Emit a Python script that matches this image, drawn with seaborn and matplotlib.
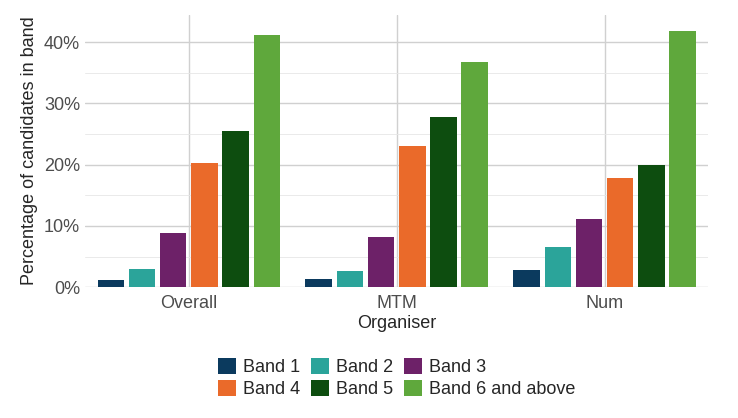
import matplotlib
matplotlib.use("Agg")
import matplotlib.pyplot as plt
import seaborn as sns
import pandas as pd
from matplotlib.ticker import FuncFormatter, MultipleLocator

organisers = ['Overall', 'MTM', 'Num']
bands = ['Band 1', 'Band 2', 'Band 3', 'Band 4', 'Band 5', 'Band 6 and above']
values = {
    'Overall': [1.2, 3.0, 8.8, 20.2, 25.5, 41.2],
    'MTM': [1.4, 2.6, 8.2, 23.1, 27.8, 36.8],
    'Num': [2.8, 6.5, 11.1, 17.8, 20.0, 41.8],
}
colours = ['#0b3a5e', '#2ba49a', '#6d2168', '#ea6a2a', '#0d4d0f', '#5fa83c']

rows = [(o, b, v) for o in organisers for b, v in zip(bands, values[o])]
df = pd.DataFrame(rows, columns=['organiser', 'band', 'pct'])

sns.set_style("whitegrid")
plt.rcParams['font.family'] = ['Liberation Sans', 'DejaVu Sans']
fig = plt.figure(figsize=(7.38, 4.18), dpi=100)
ax = fig.add_axes([0.115, 0.313, 0.845, 0.652])
sns.barplot(data=df, x='organiser', y='pct', hue='band', palette=colours,
            saturation=1, width=0.9, gap=0.15, linewidth=0, ax=ax, legend=True)

ax.set_ylim(0, 44.5)
ax.yaxis.set_major_locator(MultipleLocator(10))
ax.yaxis.set_minor_locator(MultipleLocator(5))
ax.yaxis.set_major_formatter(FuncFormatter(lambda v, p: f"{v:.0f}%"))
ax.grid(which='major', color='#d0d0d0', linewidth=1)
ax.grid(which='minor', axis='y', color='#e6e6e6', linewidth=0.6)
for s in ax.spines.values():
    s.set_visible(False)
ax.tick_params(axis='both', labelsize=13, colors='#4d4d4d', length=0)
ax.tick_params(axis='x', pad=6)
ax.set_xlabel('Organiser', fontsize=13, labelpad=2)
ax.set_ylabel('Percentage of candidates in band', fontsize=13)

handles, labels = ax.get_legend_handles_labels()
order = [0, 3, 1, 4, 2, 5]
ax.legend([handles[i] for i in order], [labels[i] for i in order],
          loc='upper center', bbox_to_anchor=(0.5, -0.2), ncol=3, frameon=False,
          fontsize=13, handlelength=1, handleheight=1, columnspacing=0.6,
          handletextpad=0.4, labelspacing=0.2)

fig.savefig('out.png', dpi=100)
